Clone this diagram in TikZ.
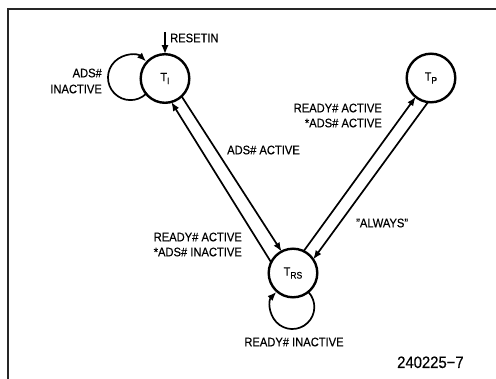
\documentclass[tikz,border=0pt]{standalone}
\usepackage{fontspec}
\setmainfont{Liberation Sans}[FakeStretch=0.9, FakeBold=0.4]
\usetikzlibrary{arrows.meta}

% state label: letter with a lowered index
\newcommand\statename[2]{#1\raisebox{-3pt}{\fontsize{9.5}{9.5}\selectfont #2}}

\begin{document}
\begin{tikzpicture}[x=1pt,y=-1pt,
  state/.style={circle, draw, line width=2.4pt, minimum size=48.6pt,
    inner sep=0pt, outer sep=0pt, font=\fontsize{12}{12}\selectfont},
  edge/.style={line width=1.7pt, -{Latex[length=9pt,width=7pt]}},
  lbl/.style={inner sep=0pt, font=\fontsize{12.4}{12.4}\selectfont},
  frame/.style={line width=1.6pt, black!85}]

\useasboundingbox (0,0) rectangle (496,379);
\draw[frame] (496,9) -- (8,9) -- (8,379);

% states
\node[state] (ti)  at (165,78.5) {\statename{T}{I}};
\node[state] (tp)  at (431,78)   {\statename{T}{P}};
\node[state] (trs) at (293,273)  {\statename{T}{RS}};

% reset entry
\coordinate (rst) at (165,32);
\draw[edge] (rst) -- (ti.north);

% transitions
\draw[edge] (ti.-47) -- (trs.118);
\draw[edge] (trs.154) -- (ti.-75);
\draw[edge] (trs.64) -- (tp.-129);
\draw[edge] (tp.-97) -- (trs.34.5);

% self loops
\draw[edge] (ti.219) arc[start angle=-46, end angle=-314, radius=22.5pt];
\draw[edge] (trs.-51.4) arc[start angle=43.5, end angle=-223.5, radius=22pt];

% labels
\node[lbl, anchor=base west] (lrst) at (170,42.3) {RESETIN};
\node[lbl, anchor=base east] (lia) at (102,77.3) {ADS\#};
\node[lbl, anchor=base east] (lib) at (102,93.3) {INACTIVE};
\node[lbl, anchor=base west] (lad) at (227,154.3) {ADS\# ACTIVE};
\node[lbl, anchor=base east] (lpa) at (382,112.3) {READY\# ACTIVE};
\node[lbl, anchor=base east] (lpb) at (382,127.3) {*ADS\# ACTIVE};
\node[lbl, anchor=base east] (lra) at (242,241.3) {READY\# ACTIVE};
\node[lbl, anchor=base east] (lrb) at (242,256.3) {*ADS\# INACTIVE};
\node[lbl, anchor=base west] (lal) at (356,227.3) {"ALWAYS"};
\node[lbl, anchor=base] (lri) at (294,346.3) {READY\# INACTIVE};
\node[lbl, anchor=base west, font=\fontsize{16.5}{16.5}\selectfont] (fig) at (397,368) {240225−7};
\end{tikzpicture}
\end{document}
